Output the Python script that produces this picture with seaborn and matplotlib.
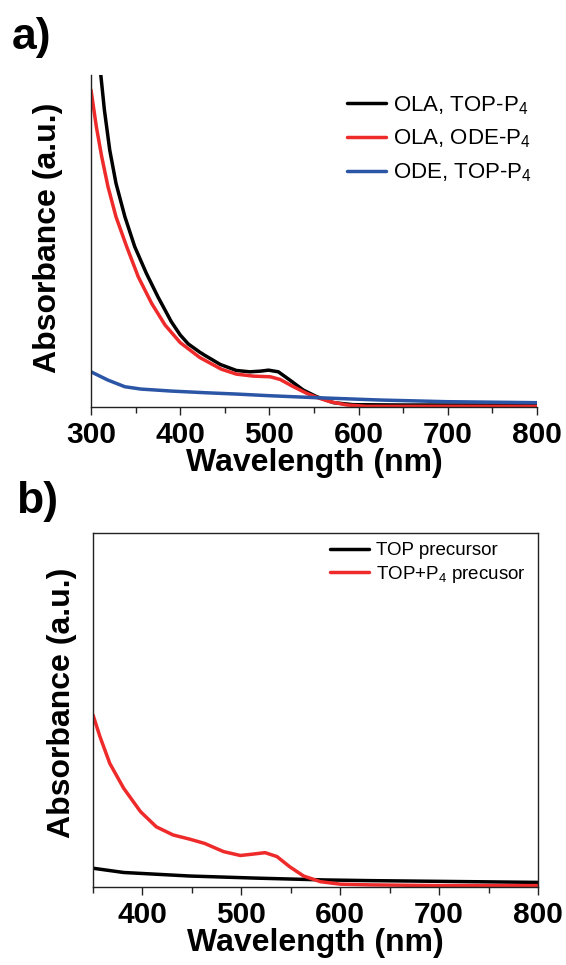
import matplotlib
matplotlib.use("Agg")
import matplotlib.pyplot as plt
from matplotlib.ticker import MultipleLocator
import seaborn as sns
import pandas as pd

sns.set_theme(style="white")
plt.rcParams["font.family"] = ["Liberation Sans", "DejaVu Sans"]
plt.rcParams["mathtext.fontset"] = "custom"
plt.rcParams["mathtext.rm"] = "Liberation Sans"
plt.rcParams["mathtext.it"] = "Liberation Sans"
plt.rcParams["mathtext.bf"] = "Liberation Sans:bold"
plt.rcParams["text.color"] = "black"
plt.rcParams["axes.labelcolor"] = "black"
plt.rcParams["xtick.color"] = "black"
plt.rcParams["ytick.color"] = "black"

# ---- Panel a: absorption spectra for different solvent / precursor combinations ----
wl_a_ola_top = [300, 305, 311, 315, 321, 328, 338, 349, 362, 375, 390, 400, 409, 422,
                428, 445, 463, 478, 490, 499, 510, 523, 538, 553, 572, 594, 650, 700, 800]
abs_a_ola_top = [1.25, 1.11, 1.00, 0.895, 0.774, 0.674, 0.573, 0.483, 0.403, 0.332, 0.257,
                 0.217, 0.190, 0.165, 0.155, 0.128, 0.110, 0.106, 0.108, 0.111, 0.106,
                 0.081, 0.051, 0.031, 0.013, 0.007, 0.006, 0.006, 0.006]

wl_a_ola_ode = [300, 306, 312, 319, 328, 340, 353, 368, 383, 400, 422, 446, 463, 482,
                501, 512, 527, 542, 553, 568, 587, 609, 700, 800]
abs_a_ola_ode = [0.955, 0.844, 0.754, 0.664, 0.573, 0.483, 0.392, 0.312, 0.247, 0.194,
                 0.149, 0.114, 0.099, 0.093, 0.091, 0.083, 0.061, 0.041, 0.029, 0.016,
                 0.006, 0.002, 0.002, 0.002]

wl_a_ode_top = [300, 319, 338, 356, 390, 428, 463, 500, 553, 624, 699, 800]
abs_a_ode_top = [0.106, 0.081, 0.061, 0.054, 0.048, 0.043, 0.039, 0.034, 0.028, 0.021,
                 0.016, 0.013]

labels_a = ["OLA, TOP-P$_4$", "OLA, ODE-P$_4$", "ODE, TOP-P$_4$"]

# ---- Panel b: precursor solutions ----
wl_b_top = [350, 381, 448, 516, 583, 630, 700, 800]
abs_b_top = [0.053, 0.041, 0.031, 0.025, 0.020, 0.018, 0.016, 0.013]

wl_b_top_p4 = [350, 357, 367, 381, 398, 414, 431, 448, 463, 482, 499, 512, 524, 536,
               549, 563, 580, 600, 630, 700, 800]
abs_b_top_p4 = [0.486, 0.425, 0.349, 0.279, 0.213, 0.170, 0.147, 0.135, 0.123, 0.100,
                0.089, 0.093, 0.097, 0.086, 0.057, 0.031, 0.015, 0.008, 0.006, 0.004,
                0.004]

labels_b = ["TOP precursor", "TOP+P$_4$ precusor"]

BLACK = "#000000"
RED = "#EE2A2A"
BLUE = "#2B55A5"

W, H = 566, 965
fig = plt.figure(figsize=(W / 100, H / 100), dpi=100)

def fig_rect(left, top, right, bottom):
    return [left / W, 1 - bottom / H, (right - left) / W, (bottom - top) / H]

ax_a = fig.add_axes(fig_rect(91, 75, 537, 407))
ax_b = fig.add_axes(fig_rect(93, 533, 538, 887))

lw = 2.5
series_a = [
    (wl_a_ola_top, abs_a_ola_top, BLACK),
    (wl_a_ola_ode, abs_a_ola_ode, RED),
    (wl_a_ode_top, abs_a_ode_top, BLUE),
]
for (x, y, c), lab in zip(series_a, labels_a):
    df = pd.DataFrame({"Wavelength": x, "Absorbance": y})
    sns.lineplot(data=df, x="Wavelength", y="Absorbance", color=c, lw=lw,
                 label=lab, ax=ax_a, sort=True)

series_b = [
    (wl_b_top, abs_b_top, BLACK),
    (wl_b_top_p4, abs_b_top_p4, RED),
]
for (x, y, c), lab in zip(series_b, labels_b):
    df = pd.DataFrame({"Wavelength": x, "Absorbance": y})
    sns.lineplot(data=df, x="Wavelength", y="Absorbance", color=c, lw=lw,
                 label=lab, ax=ax_b, sort=True)

ax_a.set_xlim(300, 800)
ax_a.set_ylim(0, 1.0)
ax_b.set_xlim(350, 800)
ax_b.set_ylim(0, 1.0)

label_font = dict(fontsize=23, fontweight="bold")

for ax in (ax_a, ax_b):
    ax.set_yticks([])
    ax.xaxis.set_major_locator(MultipleLocator(100))
    ax.xaxis.set_minor_locator(MultipleLocator(50))
    ax.tick_params(axis="x", which="major", direction="out", length=6, width=1,
                   color="#222222", bottom=True, pad=4)
    ax.tick_params(axis="x", which="minor", direction="out", length=4, width=1,
                   color="#222222", bottom=True)
    ax.set_xlabel("Wavelength (nm)", **label_font, labelpad=-1)
    ax.set_ylabel("Absorbance (a.u.)", **label_font)
    for s in ax.spines.values():
        s.set_color("#222222")
        s.set_linewidth(1.0)

ax_b.set_xticks([400, 500, 600, 700, 800])
ax_b.xaxis.set_minor_locator(MultipleLocator(50))
for ax in (ax_a, ax_b):
    for lbl in ax.get_xticklabels():
        lbl.set_fontsize(21.5)
        lbl.set_fontweight("bold")

ax_a.spines["top"].set_visible(False)
ax_a.spines["right"].set_visible(False)

ax_a.yaxis.set_label_coords(-0.062, 0.51)
ax_b.yaxis.set_label_coords(-0.036, 0.52)

ax_a.legend(loc="upper left", bbox_to_anchor=(347 / W, 1 - 94 / H),
            bbox_transform=fig.transFigure, frameon=False, fontsize=16,
            handlelength=1.75, handletextpad=0.3, labelspacing=0.5,
            borderaxespad=0, borderpad=0)
ax_b.legend(loc="upper left", bbox_to_anchor=(330 / W, 1 - 542 / H),
            bbox_transform=fig.transFigure, frameon=False, fontsize=13.5,
            handlelength=2.1, handletextpad=0.35, labelspacing=0.25,
            borderaxespad=0, borderpad=0)

fig.text(12 / W, 1 - 37 / H, "a)", fontsize=32, fontweight="bold", va="center", ha="left")
fig.text(16 / W, 1 - 501 / H, "b)", fontsize=32, fontweight="bold", va="center", ha="left")

fig.savefig("out.png", dpi=100)
